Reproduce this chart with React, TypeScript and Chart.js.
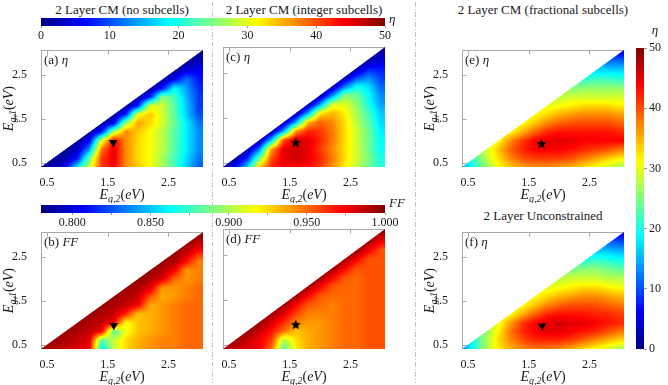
import React, { useEffect, useRef } from "react";
import { Chart, registerables } from "chart.js";

Chart.register(...registerables);

const FONT = "'Liberation Serif', 'Times New Roman', serif";

// ---------- data ----------
// grid energies (eV): rows are E_g,1 (y), columns are E_g,2 (x); each row starts at x = y
const E_GRID = [0.4, 0.6, 0.8, 1.0, 1.2, 1.4, 1.6, 1.8, 2.0, 2.2, 2.4, 2.6, 2.8, 3.0];
const AXIS_MIN = 0.4;
const AXIS_MAX = 3.07;
const AXIS_TICKS = [0.5, 1.5, 2.5];

const ETA_TICKS = [0, 10, 20, 30, 40, 50];
const ETA_RANGE = [0, 50];
const FF_TICKS = [0.8, 0.85, 0.9, 0.95, 1.0];
const FF_MINOR_TICKS = [0.825, 0.875, 0.925, 0.975];
const FF_RANGE = [0.78, 1.0];

// (a) eta, 2 layer CM, no subcells
const ETA_NO_SUBCELLS = [
  [1, 2, 5, 18, 29, 41, 44, 37, 34, 31, 27, 22, 16, 11],
  [1, 2, 7, 24, 41, 45, 37, 33, 31, 27, 22, 17, 12],
  [1, 3, 14, 38, 45, 37, 33, 31, 28, 23, 18, 13],
  [1, 6, 30, 44, 37, 33, 31, 28, 23, 18, 13],
  [1, 8, 28, 37, 34, 31, 28, 23, 18, 13],
  [1, 6, 27, 36, 33, 29, 24, 18, 12],
  [1, 8, 31, 34, 29, 23, 16, 10],
  [1, 8, 30, 29, 23, 16, 9],
  [1, 8, 26, 22, 15, 9],
  [1, 7, 19, 14, 8],
  [1, 6, 12, 7],
  [1, 5, 6],
  [1, 3],
  [1],
];

// (c) eta, 2 layer CM, integer subcells
const ETA_INTEGER = [
  [1, 6, 16, 34, 42, 44, 44, 43, 41, 37, 32, 28, 24, 20],
  [1, 8, 24, 40, 45, 46, 45, 42, 38, 33, 29, 25, 20],
  [1, 12, 36, 45, 46, 45, 41, 37, 33, 29, 24, 19],
  [1, 16, 40, 46, 45, 42, 38, 33, 29, 24, 19],
  [1, 14, 36, 42, 41, 38, 33, 29, 24, 18],
  [1, 14, 34, 39, 37, 33, 28, 23, 17],
  [1, 14, 32, 35, 32, 27, 22, 16],
  [1, 13, 29, 30, 26, 20, 14],
  [1, 12, 25, 24, 19, 13],
  [1, 11, 19, 17, 11],
  [1, 9, 13, 9],
  [1, 7, 7],
  [1, 4],
  [1],
];

// (e) eta, 2 layer CM, fractional subcells
const ETA_FRACTIONAL = [
  [14, 20, 26, 31, 34, 36, 37, 37, 36, 35, 33, 31, 29, 27],
  [22, 28, 33, 37, 40, 41, 41, 41, 40, 38, 36, 34, 32],
  [29, 34, 39, 42, 44, 44, 44, 43, 42, 41, 40, 38],
  [31, 37, 41, 44, 45, 45, 45, 44, 44, 44, 44],
  [31, 35, 39, 42, 43, 43, 43, 43, 43, 42],
  [31, 34, 37, 39, 40, 40, 40, 40, 39],
  [31, 33, 35, 36, 37, 37, 37, 36],
  [30, 31, 32, 33, 33, 33, 32],
  [28, 29, 29, 29, 29, 29],
  [25, 26, 26, 26, 26],
  [21, 22, 22, 21],
  [17, 17, 17],
  [12, 12],
  [6],
];

// (f) eta, 2 layer unconstrained
const ETA_UNCONSTRAINED = [
  [12, 20, 27, 32, 35, 37, 38, 38, 37, 35, 33, 31, 29, 27],
  [20, 27, 33, 37, 40, 42, 42, 42, 41, 39, 37, 35, 33],
  [26, 32, 38, 42, 44, 45, 45, 44, 43, 42, 40, 38],
  [30, 36, 41, 44, 45, 46, 45, 45, 44, 43, 42],
  [31, 35, 39, 42, 43, 43, 43, 42, 42, 41],
  [31, 34, 37, 39, 40, 40, 40, 39, 38],
  [31, 33, 35, 36, 37, 37, 36, 35],
  [30, 31, 32, 33, 33, 32, 31],
  [28, 29, 29, 29, 28, 28],
  [25, 26, 26, 25, 24],
  [21, 22, 21, 20],
  [17, 17, 16],
  [12, 11],
  [6],
];

// (b) FF, no subcells
const FF_NO_SUBCELLS = [
  [0.99, 0.99, 0.985, 0.98, 0.975, 0.86, 0.905, 0.925, 0.935, 0.94, 0.945, 0.945, 0.95, 0.95],
  [0.995, 0.99, 0.985, 0.98, 0.88, 0.905, 0.925, 0.935, 0.94, 0.945, 0.945, 0.95, 0.95],
  [0.995, 0.99, 0.985, 0.975, 0.88, 0.915, 0.93, 0.935, 0.94, 0.945, 0.95, 0.95],
  [0.995, 0.99, 0.985, 0.975, 0.915, 0.93, 0.935, 0.94, 0.945, 0.95, 0.95],
  [0.995, 0.99, 0.985, 0.965, 0.93, 0.935, 0.94, 0.945, 0.95, 0.95],
  [0.995, 0.99, 0.985, 0.975, 0.935, 0.94, 0.945, 0.95, 0.95],
  [0.995, 0.99, 0.985, 0.955, 0.935, 0.94, 0.945, 0.95],
  [0.995, 0.99, 0.98, 0.94, 0.94, 0.945, 0.95],
  [0.995, 0.99, 0.98, 0.95, 0.94, 0.945],
  [0.995, 0.99, 0.975, 0.94, 0.945],
  [0.995, 0.99, 0.97, 0.945],
  [0.995, 0.985, 0.965],
  [0.995, 0.985],
  [0.995],
];

// (d) FF, integer subcells
const FF_INTEGER = [
  [0.99, 0.985, 0.98, 0.975, 0.95, 0.88, 0.92, 0.935, 0.94, 0.945, 0.95, 0.95, 0.955, 0.955],
  [0.995, 0.985, 0.975, 0.96, 0.9, 0.925, 0.935, 0.94, 0.945, 0.95, 0.95, 0.955, 0.955],
  [0.995, 0.985, 0.97, 0.95, 0.93, 0.935, 0.94, 0.945, 0.95, 0.95, 0.955, 0.955],
  [0.995, 0.98, 0.965, 0.945, 0.94, 0.94, 0.945, 0.95, 0.95, 0.955, 0.955],
  [0.995, 0.98, 0.96, 0.945, 0.945, 0.945, 0.95, 0.95, 0.955, 0.955],
  [0.995, 0.975, 0.955, 0.95, 0.945, 0.95, 0.95, 0.955, 0.955],
  [0.995, 0.975, 0.955, 0.95, 0.95, 0.95, 0.955, 0.955],
  [0.995, 0.975, 0.955, 0.95, 0.95, 0.955, 0.955],
  [0.995, 0.975, 0.955, 0.95, 0.955, 0.955],
  [0.995, 0.975, 0.955, 0.955, 0.955],
  [0.995, 0.975, 0.955, 0.955],
  [0.995, 0.975, 0.955],
  [0.995, 0.975],
  [0.995],
];

// optimum markers [E_g,2, E_g,1]
const OPT_NO_SUBCELLS = [1.59, 0.96];
const OPT_FF_NO_SUBCELLS = [1.6, 0.94];
const OPT_INTEGER = [1.6, 0.95];
const OPT_FF_INTEGER = [1.6, 0.95];
const OPT_FRACTIONAL = [1.71, 0.94];
const OPT_UNCONSTRAINED = [1.72, 0.93];

// ---------- layout ----------
const AREA_W = 162;
const AREA_H = 120;
const PAD_L = 41;
const PAD_T = 10;
const PAD_R = 8;
const PAD_B = 36;
const BOX_COLOR = "#a8a8a8";
const TEXT_COLOR = "#1a1a1a";

type Panel = {
  id: string;
  tag: string;
  sym: string;
  rows: number[][];
  range: number[];
  opt: number[];
  marker: "star" | "tri";
  left: number;
  top: number;
  yLabels: boolean;
};

const PANELS: Panel[] = [
  { id: "a", tag: "(a)", sym: "η", rows: ETA_NO_SUBCELLS, range: ETA_RANGE, opt: OPT_NO_SUBCELLS, marker: "tri", left: 41, top: 47, yLabels: true },
  { id: "c", tag: "(c)", sym: "η", rows: ETA_INTEGER, range: ETA_RANGE, opt: OPT_INTEGER, marker: "star", left: 223, top: 47, yLabels: false },
  { id: "e", tag: "(e)", sym: "η", rows: ETA_FRACTIONAL, range: ETA_RANGE, opt: OPT_FRACTIONAL, marker: "star", left: 462, top: 47, yLabels: true },
  { id: "b", tag: "(b)", sym: "FF", rows: FF_NO_SUBCELLS, range: FF_RANGE, opt: OPT_FF_NO_SUBCELLS, marker: "tri", left: 41, top: 229, yLabels: true },
  { id: "d", tag: "(d)", sym: "FF", rows: FF_INTEGER, range: FF_RANGE, opt: OPT_FF_INTEGER, marker: "star", left: 223, top: 229, yLabels: false },
  { id: "f", tag: "(f)", sym: "η", rows: ETA_UNCONSTRAINED, range: ETA_RANGE, opt: OPT_UNCONSTRAINED, marker: "tri", left: 462, top: 229, yLabels: true },
];

// ---------- helpers ----------
function jet(t: number): [number, number, number] {
  const u = Math.min(1, Math.max(0, t));
  const c = (v: number) => Math.round(255 * Math.min(1, Math.max(0, v)));
  return [c(1.5 - Math.abs(4 * u - 3)), c(1.5 - Math.abs(4 * u - 2)), c(1.5 - Math.abs(4 * u - 1))];
}

function sample(rows: number[][], xv: number, yv: number): number {
  const n = E_GRID.length;
  const step = E_GRID[1] - E_GRID[0];
  let fx = (xv - E_GRID[0]) / step;
  let fy = (yv - E_GRID[0]) / step;
  fx = Math.min(n - 1, Math.max(0, fx));
  fy = Math.min(n - 1, Math.max(0, fy));
  const i0 = Math.min(n - 2, Math.floor(fx));
  const j0 = Math.min(n - 2, Math.floor(fy));
  const tx = fx - i0;
  const ty = fy - j0;
  const g = (i: number, j: number) => (i >= j ? rows[j][i - j] : (rows[i][0] + rows[j][0]) / 2);
  const v0 = g(i0, j0) * (1 - tx) + g(i0 + 1, j0) * tx;
  const v1 = g(i0, j0 + 1) * (1 - tx) + g(i0 + 1, j0 + 1) * tx;
  return v0 * (1 - ty) + v1 * ty;
}

type Part = { t: string; it?: boolean; sz: number; dy?: number };

function drawParts(ctx: CanvasRenderingContext2D, parts: Part[], cx: number, cy: number, rot: number, align: "center" | "left" = "center") {
  ctx.save();
  ctx.translate(cx, cy);
  if (rot) ctx.rotate(rot);
  let total = 0;
  const widths = parts.map((p) => {
    ctx.font = `${p.it ? "italic " : ""}${p.sz}px ${FONT}`;
    const w = ctx.measureText(p.t).width;
    total += w;
    return w;
  });
  let x = align === "center" ? -total / 2 : 0;
  ctx.fillStyle = TEXT_COLOR;
  ctx.textBaseline = "alphabetic";
  ctx.textAlign = "left";
  parts.forEach((p, k) => {
    ctx.font = `${p.it ? "italic " : ""}${p.sz}px ${FONT}`;
    ctx.fillText(p.t, x, 4.5 + (p.dy || 0));
    x += widths[k];
  });
  ctx.restore();
}

function axisTitle(sub: string): Part[] {
  return [
    { t: "E", it: true, sz: 14 },
    { t: sub, it: true, sz: 10, dy: 3 },
    { t: "(", sz: 14 },
    { t: "eV", it: true, sz: 14 },
    { t: ")", sz: 14 },
  ];
}

function makeStar(r: number): HTMLCanvasElement {
  const c = document.createElement("canvas");
  const s = Math.ceil(2 * r + 2);
  c.width = s;
  c.height = s;
  const ctx = c.getContext("2d") as CanvasRenderingContext2D;
  ctx.beginPath();
  for (let k = 0; k < 10; k++) {
    const ang = -Math.PI / 2 + (k * Math.PI) / 5;
    const rr = k % 2 === 0 ? r : r * 0.42;
    ctx.lineTo(s / 2 + rr * Math.cos(ang), s / 2 + rr * Math.sin(ang) + 0.6);
  }
  ctx.closePath();
  ctx.fillStyle = "#000";
  ctx.fill();
  return c;
}

function panelPlugin(p: Panel) {
  return {
    id: "panel-" + p.id,
    beforeDatasetsDraw(chart: any) {
      const { ctx, chartArea: a, scales } = chart;
      const xs = scales.x;
      const ys = scales.y;
      const x0 = Math.round(a.left);
      const y0 = Math.round(a.top);
      const W = Math.round(a.right) - x0;
      const H = Math.round(a.bottom) - y0;
      ctx.save();
      // box and inward ticks (below the data, as in the source figure)
      ctx.strokeStyle = BOX_COLOR;
      ctx.lineWidth = 1;
      const L = x0 + 0.5, R = x0 + W - 0.5, T = y0 + 0.5, B = y0 + H - 0.5;
      ctx.strokeRect(L, T, R - L, B - T);
      ctx.beginPath();
      for (const v of AXIS_TICKS) {
        const yp = Math.round(ys.getPixelForValue(v)) + 0.5;
        ctx.moveTo(L, yp);
        ctx.lineTo(L + 4, yp);
        ctx.moveTo(R, yp);
        ctx.lineTo(R - 4, yp);
        const xp = Math.round(xs.getPixelForValue(v)) + 0.5;
        ctx.moveTo(xp, B);
        ctx.lineTo(xp, B - 4);
        ctx.moveTo(xp, T);
        ctx.lineTo(xp, T + 4);
      }
      ctx.stroke();
      // heat field on the triangle E_g,2 >= E_g,1
      const off = document.createElement("canvas");
      off.width = W;
      off.height = H;
      const octx = off.getContext("2d") as CanvasRenderingContext2D;
      const img = octx.createImageData(W, H);
      const k = 1 / Math.sqrt(1 / (W * W) + 1 / (H * H));
      const span = p.range[1] - p.range[0];
      for (let py = 0; py < H; py++) {
        const yv = ys.getValueForPixel(y0 + py + 0.5);
        for (let px = 0; px < W; px++) {
          const s = ((px + 0.5) / W + (py + 0.5) / H - 1) * k;
          const alpha = Math.min(1, Math.max(0, s + 0.5));
          if (alpha <= 0) continue;
          const xv = xs.getValueForPixel(x0 + px + 0.5);
          const v = sample(p.rows, xv, yv);
          const [r, g, b] = jet((v - p.range[0]) / span);
          const i = (py * W + px) * 4;
          img.data[i] = r;
          img.data[i + 1] = g;
          img.data[i + 2] = b;
          img.data[i + 3] = Math.round(alpha * 255);
        }
      }
      octx.putImageData(img, 0, 0);
      ctx.drawImage(off, x0, y0);
      ctx.restore();
    },
    afterDraw(chart: any) {
      const { ctx, chartArea: a } = chart;
      drawParts(ctx, [{ t: p.tag + " ", sz: 13 }, { t: p.sym, it: true, sz: 13 }], a.left + 3, a.top + 9, 0, "left");
      drawParts(ctx, axisTitle("g,2"), (a.left + a.right) / 2, a.bottom + 27.5, 0);
      if (p.yLabels) drawParts(ctx, axisTitle("g,1"), a.left - 33, (a.top + a.bottom) / 2, -Math.PI / 2);
    },
  };
}

const tickFont = { family: FONT, size: 12 };

function panelConfig(p: Panel): any {
  const star = makeStar(5.5);
  return {
    type: "scatter",
    data: {
      datasets: [
        {
          data: [{ x: p.opt[0], y: p.opt[1] }],
          pointStyle: p.marker === "star" ? star : "triangle",
          rotation: p.marker === "star" ? 0 : 180,
          radius: 4.8,
          backgroundColor: "#000",
          borderColor: "#000",
          borderWidth: 0,
        },
      ],
    },
    options: {
      responsive: false,
      maintainAspectRatio: false,
      animation: false,
      events: [],
      layout: { padding: { left: 0, top: PAD_T, right: PAD_R, bottom: 0 } },
      plugins: { legend: { display: false }, tooltip: { enabled: false } },
      scales: {
        x: {
          type: "linear",
          min: AXIS_MIN,
          max: AXIS_MAX,
          afterBuildTicks: (s: any) => {
            s.ticks = AXIS_TICKS.map((v) => ({ value: v }));
          },
          afterFit: (s: any) => {
            s.height = PAD_B;
          },
          ticks: { font: tickFont, color: TEXT_COLOR, padding: 1, autoSkip: false, maxRotation: 0, minRotation: 0, callback: (v: any) => Number(v).toFixed(1) },
          grid: { display: false },
          border: { display: false },
        },
        y: {
          type: "linear",
          min: AXIS_MIN,
          max: AXIS_MAX,
          afterBuildTicks: (s: any) => {
            s.ticks = AXIS_TICKS.map((v) => ({ value: v }));
          },
          afterFit: (s: any) => {
            s.width = PAD_L;
          },
          ticks: { display: p.yLabels, font: tickFont, color: TEXT_COLOR, padding: 6, autoSkip: false, callback: (v: any) => Number(v).toFixed(1) },
          grid: { display: false },
          border: { display: false },
        },
      },
    },
    plugins: [panelPlugin(p)],
  };
}

function colorbarPlugin(range: number[], orient: "h" | "v", label: Part[], lx: number, ly: number) {
  return {
    id: "cbar",
    beforeDatasetsDraw(chart: any) {
      const { ctx, chartArea: a } = chart;
      const span = range[1] - range[0];
      ctx.save();
      if (orient === "h") {
        const xs = chart.scales.x;
        for (let px = Math.round(a.left); px < Math.round(a.right); px++) {
          const [r, g, b] = jet((xs.getValueForPixel(px + 0.5) - range[0]) / span);
          ctx.fillStyle = `rgb(${r},${g},${b})`;
          ctx.fillRect(px, Math.round(a.top), 1, Math.round(a.bottom) - Math.round(a.top));
        }
      } else {
        const ys = chart.scales.y;
        for (let py = Math.round(a.top); py < Math.round(a.bottom); py++) {
          const [r, g, b] = jet((ys.getValueForPixel(py + 0.5) - range[0]) / span);
          ctx.fillStyle = `rgb(${r},${g},${b})`;
          ctx.fillRect(Math.round(a.left), py, Math.round(a.right) - Math.round(a.left), 1);
        }
      }
      ctx.restore();
    },
    afterDraw(chart: any) {
      const { ctx, chartArea: a } = chart;
      if (orient === "h") drawParts(ctx, label, a.right + lx, a.top + ly, 0, "left");
      else drawParts(ctx, label, a.right + lx, a.top + ly, 0, "center");
    },
  };
}

function hBarConfig(range: number[], major: number[], minor: number[], digits: number, label: Part[], padTop: number, barH: number, canvasH: number, rightPad: number, ly: number): any {
  const all = [...major, ...minor].sort((p, q) => p - q);
  return {
    type: "scatter",
    data: { datasets: [] },
    options: {
      responsive: false,
      maintainAspectRatio: false,
      animation: false,
      events: [],
      layout: { padding: { left: 41, top: padTop, right: rightPad, bottom: 0 } },
      plugins: { legend: { display: false }, tooltip: { enabled: false } },
      scales: {
        x: {
          type: "linear",
          min: range[0],
          max: range[1],
          position: "bottom",
          afterBuildTicks: (s: any) => {
            s.ticks = all.map((v) => ({ value: v }));
          },
          afterFit: (s: any) => {
            s.height = canvasH - padTop - barH;
          },
          ticks: {
            font: tickFont,
            color: TEXT_COLOR,
            padding: 1,
            autoSkip: false,
            maxRotation: 0,
            minRotation: 0,
            callback: (v: any) => (major.some((m) => Math.abs(m - v) < 1e-6) ? Number(v).toFixed(digits) : ""),
          },
          grid: { display: true, drawOnChartArea: false, drawTicks: true, tickLength: 2, color: "#9a9a9a" },
          border: { display: false },
        },
        y: { display: false, min: 0, max: 1 },
      },
    },
    plugins: [colorbarPlugin(range, "h", label, 4, ly)],
  };
}

function vBarConfig(): any {
  return {
    type: "scatter",
    data: { datasets: [] },
    options: {
      responsive: false,
      maintainAspectRatio: false,
      animation: false,
      events: [],
      layout: { padding: { left: 36, top: 28, right: 0, bottom: 11 } },
      plugins: { legend: { display: false }, tooltip: { enabled: false } },
      scales: {
        x: { display: false, min: 0, max: 1 },
        y: {
          type: "linear",
          position: "right",
          min: ETA_RANGE[0],
          max: ETA_RANGE[1],
          afterBuildTicks: (s: any) => {
            s.ticks = ETA_TICKS.map((v) => ({ value: v }));
          },
          afterFit: (s: any) => {
            s.width = 24;
          },
          ticks: { font: tickFont, color: TEXT_COLOR, padding: 2, autoSkip: false, callback: (v: any) => String(v) },
          grid: { display: true, drawOnChartArea: false, drawTicks: true, tickLength: 3, color: "#9a9a9a" },
          border: { display: false },
        },
      },
    },
    plugins: [colorbarPlugin(ETA_RANGE, "v", [{ t: "η", it: true, sz: 13 }], 11, -19)],
  };
}

function ChartCanvas(props: { make: () => any; left: number; top: number; width: number; height: number }) {
  const ref = useRef<HTMLCanvasElement | null>(null);
  useEffect(() => {
    if (!ref.current) return;
    const chart = new Chart(ref.current, props.make());
    return () => chart.destroy();
  }, []);
  return (
    <canvas
      ref={ref}
      width={props.width}
      height={props.height}
      style={{ position: "absolute", left: props.left, top: props.top, width: props.width, height: props.height }}
    />
  );
}

const titleStyle = (cx: number, cy: number): React.CSSProperties => ({
  position: "absolute",
  left: cx,
  top: cy,
  transform: "translate(-50%, -50%)",
  fontFamily: FONT,
  fontSize: 13,
  lineHeight: 1,
  whiteSpace: "nowrap",
  color: TEXT_COLOR,
});

const sepStyle = (x: number): React.CSSProperties => ({
  position: "absolute",
  left: x,
  top: 2,
  width: 1,
  height: 381,
  background:
    "repeating-linear-gradient(to bottom, #c4c4c4 0px, #c4c4c4 5px, transparent 5px, transparent 7px, #c4c4c4 7px, #c4c4c4 8px, transparent 8px, transparent 10px)",
});

export default function App() {
  return (
    <div style={{ position: "fixed", left: 0, top: 0, width: 668, height: 385, background: "#fff", overflow: "hidden" }}>
      <div style={sepStyle(212)} />
      <div style={sepStyle(415)} />
      <div style={titleStyle(122, 9)}>2 Layer CM (no subcells)</div>
      <div style={titleStyle(304, 9)}>2 Layer CM (integer subcells)</div>
      <div style={titleStyle(543, 9)}>2 Layer CM (fractional subcells)</div>
      <div style={titleStyle(543, 215)}>2 Layer Unconstrained</div>
      <ChartCanvas
        left={0}
        top={0}
        width={420}
        height={46}
        make={() => hBarConfig(ETA_RANGE, ETA_TICKS, [], 0, [{ t: "η", it: true, sz: 13 }], 18, 8, 46, 35, 0)}
      />
      <ChartCanvas
        left={0}
        top={190}
        width={420}
        height={38}
        make={() => hBarConfig(FF_RANGE, FF_TICKS, FF_MINOR_TICKS, 3, [{ t: "FF", it: true, sz: 13 }], 15, 8, 38, 35, -3)}
      />
      <ChartCanvas left={600} top={20} width={68} height={340} make={vBarConfig} />
      {PANELS.map((p) => (
        <ChartCanvas
          key={p.id}
          left={p.left - PAD_L}
          top={p.top - PAD_T}
          width={PAD_L + AREA_W + PAD_R}
          height={PAD_T + AREA_H + PAD_B}
          make={() => panelConfig(p)}
        />
      ))}
    </div>
  );
}
